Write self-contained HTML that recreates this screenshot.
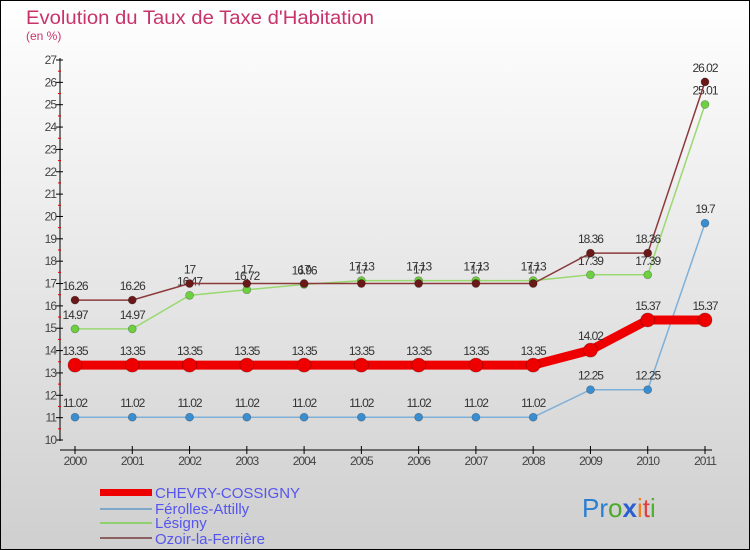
<!DOCTYPE html>
<html><head><meta charset="utf-8"><style>
body{margin:0;width:750px;height:550px;overflow:hidden;font-family:"Liberation Sans",sans-serif}
svg{display:block}
</style></head><body>
<svg width="750" height="550" xmlns="http://www.w3.org/2000/svg">
<defs><linearGradient id="bg" x1="0" y1="0" x2="0" y2="1"><stop offset="0" stop-color="#ffffff"/><stop offset="1" stop-color="#cfcfcf"/></linearGradient></defs>
<rect x="0.5" y="0.5" width="749" height="549" fill="url(#bg)" stroke="#000"/>
<text x="26" y="24" font-size="19" fill="#c8336a" textLength="348" lengthAdjust="spacingAndGlyphs">Evolution du Taux de Taxe d'Habitation</text>
<text x="26" y="40" font-size="12" fill="#c8336a">(en %)</text>
<g id="axes"></g>
<g id="series"></g>
<g id="legend">
<rect x="100" y="489" width="52" height="7" fill="#ee0000"/>
<text x="155" y="498" font-size="15" fill="#5555ee">CHEVRY-COSSIGNY</text>
<rect x="100" y="508" width="52" height="2" fill="#7fa8c8"/>
<text x="155" y="514" font-size="15" fill="#5555ee">Férolles-Attilly</text>
<rect x="100" y="522" width="52" height="2" fill="#8fd070"/>
<text x="155" y="528" font-size="15" fill="#5555ee">Lésigny</text>
<rect x="100" y="537" width="52" height="2" fill="#8a6060"/>
<text x="155" y="544" font-size="15" fill="#5555ee">Ozoir-la-Ferrière</text>
</g>
<g font-size="26" font-family="'Liberation Sans',sans-serif">
<text x="582" y="517"><tspan fill="#2a7fd0">Pr</tspan><tspan fill="#4caa2a">o</tspan><tspan fill="#2a5fd0" font-weight="bold">x</tspan><tspan fill="#f08020">i</tspan><tspan fill="#e04040">t</tspan><tspan fill="#50b030">i</tspan></text>
</g>
</svg>
<script>
const years=[2000,2001,2002,2003,2004,2005,2006,2007,2008,2009,2010,2011];
const chevry=[13.35,13.35,13.35,13.35,13.35,13.35,13.35,13.35,13.35,14.02,15.37,15.37];
const ferolles=[11.02,11.02,11.02,11.02,11.02,11.02,11.02,11.02,11.02,12.25,12.25,19.7];
const lesigny=[14.97,14.97,16.47,16.72,16.96,17.13,17.13,17.13,17.13,17.39,17.39,25.01];
const ozoir=[16.26,16.26,17,17,17,17,17,17,17,18.36,18.36,26.02];
const yTicks=[10,11,12,13,14,15,16,17,18,19,20,21,22,23,24,25,26,27];
const NS="http://www.w3.org/2000/svg";
const X=i=>75+i*(630/11);
const Y=v=>440-(v-10)*(380/17);
function mk(p,t,a){const e=document.createElementNS(NS,t);for(const k in a)e.setAttribute(k,a[k]);p.appendChild(e);return e;}
const ax=document.getElementById('axes');
let l=mk(ax,'line',{x1:60,y1:58,x2:60,y2:441,stroke:'#000'});


l=mk(ax,'line',{x1:60,y1:450,x2:712,y2:450,stroke:'#000'});


yTicks.forEach(v=>{
 mk(ax,'line',{x1:56,y1:Y(v),x2:63,y2:Y(v),stroke:'#000'});
 if(v<27)mk(ax,'line',{x1:58,y1:Y(v+0.5),x2:61,y2:Y(v+0.5),stroke:'#e00000'});
 const t=mk(ax,'text',{x:56,y:Y(v)+4,'font-size':12,'text-anchor':'end',fill:'#444','letter-spacing':'-1'});
 t.textContent=v;
 
 
});
years.forEach((yr,i)=>{
 mk(ax,'line',{x1:X(i),y1:446,x2:X(i),y2:454,stroke:'#000'});
 const t=mk(ax,'text',{x:X(i),y:465,'font-size':12,'text-anchor':'middle',fill:'#444','letter-spacing':'-1'});
 t.textContent=yr;
 
 
});
const sg=document.getElementById('series');
function draw(data,color,dot,w,r,name){
 const g=mk(sg,'g',{});
 
 
 const p=mk(g,'polyline',{points:data.map((v,i)=>X(i)+','+Y(v)).join(' '),fill:'none',stroke:color,'stroke-width':w});
 
 
 data.forEach((v,i)=>{
  const c=mk(g,'circle',{cx:X(i),cy:Y(v),r:r,fill:dot,stroke:'rgba(0,0,0,0.3)','stroke-width':0.7});
  
  
  const t=mk(g,'text',{x:X(i),y:Y(v)-10,'font-size':12,'text-anchor':'middle',fill:'#333','letter-spacing':'-1'});
  t.textContent=String(v);
  
  
 });
}
draw(ferolles,'#7fb0d8','#3a8ed0',1.5,4,'ferolles');
draw(lesigny,'#9ad870','#6cd040',1.5,4,'lesigny');
draw(ozoir,'#8a3a3a','#6a1818',1.5,4,'ozoir');
draw(chevry,'#ee0000','#ee0000',9,7,'chevry');
</script>
</body></html>
